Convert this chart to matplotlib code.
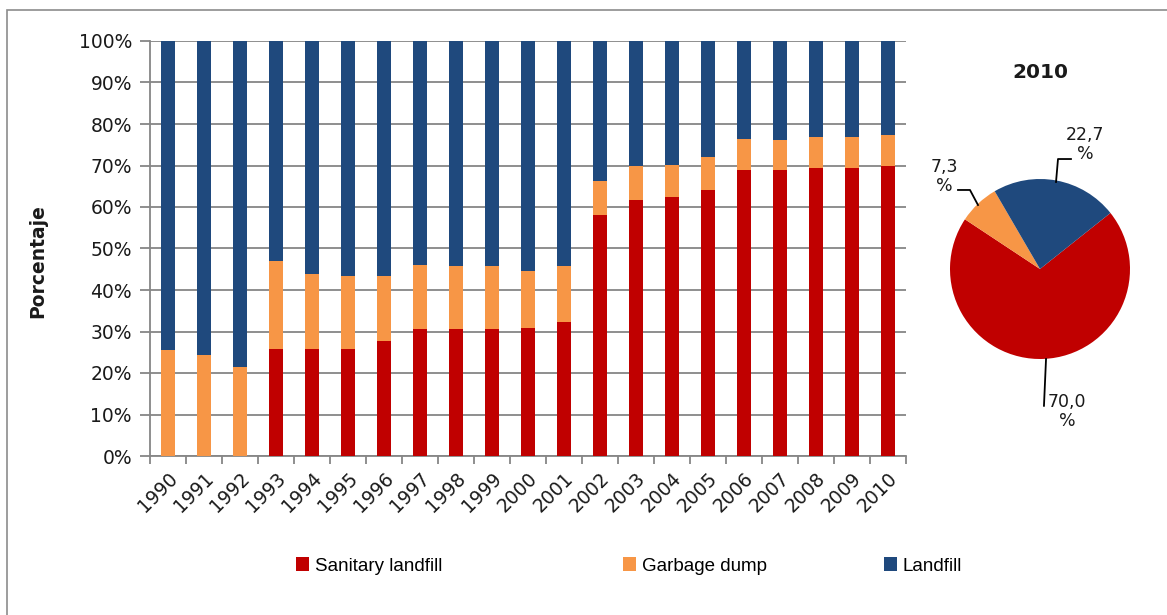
import matplotlib
matplotlib.use("Agg")
import matplotlib.pyplot as plt
from matplotlib.patches import Rectangle, Patch
import numpy as np

# --- data -----------------------------------------------------------------
years = [str(y) for y in range(1990, 2011)]
sanitary = [0.0, 0.0, 0.0, 25.8, 25.8, 25.8, 27.8, 30.5, 30.5, 30.5, 30.8,
            32.4, 58.1, 61.8, 62.3, 64.2, 68.8, 68.8, 69.5, 69.5, 70.0]
garbage = [25.5, 24.3, 21.5, 21.2, 18.1, 17.5, 15.5, 15.5, 15.3, 15.3, 13.8,
           13.5, 8.2, 8.2, 7.8, 7.9, 7.6, 7.3, 7.4, 7.4, 7.3]
landfill = [100 - s - g for s, g in zip(sanitary, garbage)]

series_names = ["Sanitary landfill", "Garbage dump", "Landfill"]
colors = ["#C00000", "#F79646", "#1F497D"]

pie_title = "2010"
pie_values = [70.0, 7.3, 22.7]   # sanitary, garbage dump, landfill

# --- figure ---------------------------------------------------------------
W, H = 1167, 615
fig = plt.figure(figsize=(W / 100, H / 100), dpi=100)
fig.patch.set_facecolor("white")

def fx(px):
    return px / W

def fy(py):
    return 1 - py / H

# outer frame (left and top edges visible)
fig.add_artist(Rectangle((fx(7), fy(630)), fx(1200), fy(10) - fy(630),
                         transform=fig.transFigure, fill=False,
                         edgecolor="#8C8C8C", linewidth=1.2))

grid_col = "#868686"
txt_col = "#1a1a1a"
ax = fig.add_axes([fx(150), fy(456), fx(906) - fx(150), fy(41) - fy(456)])
x = np.arange(len(years))
bw = 0.41
ax.bar(x, sanitary, bw, color=colors[0], zorder=3)
ax.bar(x, garbage, bw, bottom=sanitary, color=colors[1], zorder=3)
bottom2 = [s + g for s, g in zip(sanitary, garbage)]
ax.bar(x, landfill, bw, bottom=bottom2, color=colors[2], zorder=3)

ax.set_xlim(-0.5, len(years) - 0.5)
ax.set_ylim(0, 100)
ax.set_yticks(np.arange(0, 101, 10))
ax.set_yticklabels([f"{v}%" for v in range(0, 101, 10)],
                   fontsize=13.5, color=txt_col)
ax.yaxis.grid(True, color=grid_col, linewidth=1.3, zorder=0)
ax.set_axisbelow(True)

ax.set_xticks(x)
ax.set_xticklabels(years, rotation=45, ha="right", va="top",
                   rotation_mode="anchor", fontsize=13.5, color=txt_col)
ax.set_xticks(np.arange(-0.5, len(years), 1.0), minor=True)
ax.tick_params(axis="x", which="major", length=0, pad=9)
ax.tick_params(axis="x", which="minor", length=6, width=1.3, color=grid_col)
ax.tick_params(axis="y", length=7, width=1.3, color=grid_col, pad=6)

for s in ["top", "right"]:
    ax.spines[s].set_visible(False)
for s in ["left", "bottom"]:
    ax.spines[s].set_color(grid_col)
    ax.spines[s].set_linewidth(1.3)

fig.text(fx(38), fy(261), "Porcentaje", rotation=90, ha="center",
         va="center", fontsize=13.5, fontweight="bold", color=txt_col)

# --- legend ---------------------------------------------------------------
leg_x = [296, 623, 884]
for name, col, lx in zip(series_names, colors, leg_x):
    fig.legend(handles=[Patch(facecolor=col, edgecolor="none")],
               labels=[name], loc="center left",
               bbox_to_anchor=(fx(lx), fy(566)), frameon=False,
               handlelength=0.7, handleheight=0.7, handletextpad=0.3,
               borderpad=0, borderaxespad=0,
               prop={"family": "Liberation Sans", "size": 13.5})

# --- pie ------------------------------------------------------------------
cx, cy, R = 1040, 269, 90
lim = 1.6
side = 2 * lim * R
pax = fig.add_axes([fx(cx - side / 2), fy(cy + side / 2), side / W, side / H])
pax.pie(pie_values, colors=colors, startangle=38.5, counterclock=False,
        radius=1, wedgeprops=dict(linewidth=0))
pax.set_xlim(-lim, lim)
pax.set_ylim(-lim, lim)
pax.set_aspect("equal")
pax.axis("off")
pax.patch.set_alpha(0)

pax.text(0, (cy - 72) / R, pie_title, ha="center", va="center",
         fontsize=14.5, fontweight="bold", color=txt_col, clip_on=False)

def pie_label(v):
    return f"{v:.1f}".replace(".", ",") + "\n%"

# leader lines and labels: (polyline, label centre)
leaders = [
    ([(0.067, -1.0), (0.044, -1.52)], (0.30, -1.58)),
    ([(-0.689, 0.711), (-0.778, 0.878), (-0.911, 0.878)], (-1.06, 1.03)),
    ([(0.178, 0.967), (0.2, 1.222), (0.344, 1.222)], (0.50, 1.38)),
]
for v, (pts, (tx, ty)) in zip(pie_values, leaders):
    xs, ys = zip(*pts)
    pax.plot(xs, ys, color="black", linewidth=1.3, clip_on=False)
    pax.text(tx, ty, pie_label(v), ha="center", va="center", fontsize=12.5,
             linespacing=1.05, color=txt_col, clip_on=False)

fig.savefig("out.png", dpi=100, facecolor="white")
